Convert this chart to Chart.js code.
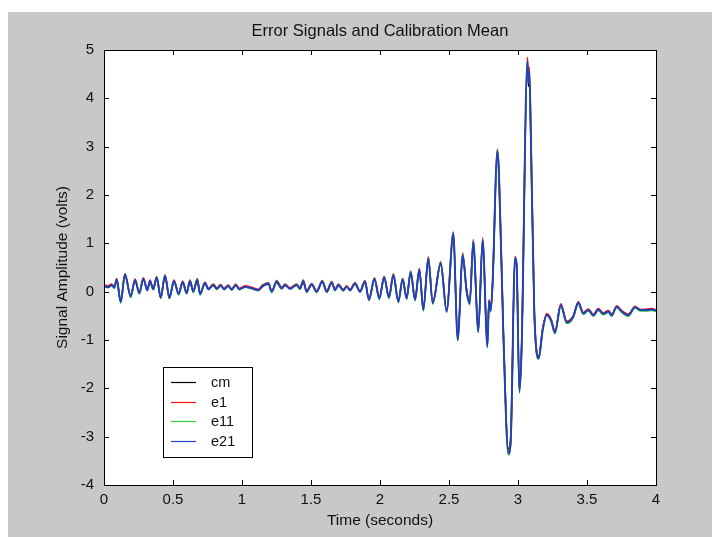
<!DOCTYPE html>
<html><head><meta charset="utf-8">
<script src="https://cdn.jsdelivr.net/npm/chart.js@4.4.1/dist/chart.umd.min.js"></script>
<style>
html,body{margin:0;padding:0;background:#fff;overflow:hidden}
#wrap{position:absolute;left:0;top:0;width:712px;height:537px}
</style></head><body><div id="wrap"><canvas id="c" width="712" height="537"></canvas></div>
<script>
// ---- data ----
const time = [
0.000,0.030,0.055,0.075,0.092,0.121,0.152,0.193,0.225,0.256,
0.285,0.314,0.333,0.357,0.382,0.411,0.442,0.474,0.507,0.541,
0.570,0.599,0.623,0.647,0.676,0.696,0.732,0.756,0.792,0.817,
0.845,0.870,0.900,0.925,0.955,0.980,1.022,1.070,1.118,1.150,
1.191,1.215,1.251,1.288,1.312,1.348,1.396,1.420,1.444,1.468,
1.505,1.541,1.582,1.614,1.650,1.674,1.698,1.734,1.758,1.783,
1.819,1.855,1.891,1.920,1.960,1.995,2.030,2.065,2.097,2.133,
2.164,2.193,2.222,2.254,2.285,2.314,2.350,2.382,2.440,2.483,
2.531,2.563,2.599,2.628,2.650,2.676,2.712,2.744,2.778,2.790,
2.802,2.816,2.850,2.862,2.894,2.930,2.947,2.978,2.990,3.010,
3.026,3.068,3.076,3.082,3.092,3.118,3.150,3.179,3.208,3.240,3.268,
3.310,3.353,3.400,3.437,3.473,3.510,3.546,3.582,3.618,3.655,
3.679,3.715,3.751,3.799,3.848,3.884,3.932,3.968,4.000];

const cm = [
0.11,0.10,0.13,0.09,0.24,-0.20,0.34,-0.09,0.23,-0.02,
0.26,0.04,0.21,0.06,0.28,-0.13,0.31,-0.14,0.21,-0.04,
0.19,-0.02,0.21,0.01,0.23,-0.04,0.17,0.06,0.13,0.05,
0.12,0.06,0.11,0.05,0.13,0.06,0.09,0.08,0.04,0.11,
0.16,0.01,0.19,0.06,0.13,0.07,0.13,0.07,0.20,0.01,
0.14,0.01,0.20,-0.01,0.18,0.04,0.13,0.02,0.11,0.04,
0.16,0.01,0.19,-0.16,0.25,-0.13,0.28,-0.11,0.33,-0.20,
0.25,-0.13,0.39,-0.16,0.44,-0.36,0.66,-0.23,0.56,-0.40,
1.16,-0.96,0.72,0.02,-0.22,1.00,-0.80,1.03,-1.10,-0.18,
-0.38,0.16,2.80,2.38,-0.86,-3.25,-3.02,0.66,0.52,-2.00,
-1.16,4.60,4.25,4.40,3.30,-0.42,-1.34,-0.77,-0.47,-0.58,-0.83,
-0.27,-0.62,-0.51,-0.24,-0.44,-0.38,-0.48,-0.37,-0.45,-0.40,
-0.47,-0.32,-0.40,-0.47,-0.33,-0.37,-0.39,-0.36,-0.38];

const e1 = [
0.14,0.12,0.16,0.10,0.27,-0.20,0.37,-0.08,0.26,-0.01,
0.29,0.05,0.24,0.07,0.31,-0.10,0.35,-0.10,0.24,-0.03,
0.22,-0.01,0.24,0.02,0.27,-0.03,0.20,0.07,0.16,0.08,
0.15,0.07,0.14,0.06,0.16,0.07,0.12,0.09,0.05,0.14,
0.19,0.02,0.23,0.09,0.16,0.08,0.16,0.08,0.24,0.02,
0.17,0.02,0.23,0.02,0.21,0.05,0.16,0.05,0.12,0.05,
0.19,0.02,0.23,-0.15,0.29,-0.12,0.32,-0.10,0.37,-0.19,
0.28,-0.12,0.43,-0.15,0.48,-0.36,0.72,-0.22,0.62,-0.39,
1.24,-0.98,0.80,0.03,-0.22,1.08,-0.80,1.12,-1.12,-0.17,
-0.37,0.21,2.95,2.55,-0.80,-3.30,-3.15,0.73,0.60,-2.02,
-1.15,4.85,4.45,4.65,3.55,-0.35,-1.33,-0.75,-0.45,-0.57,-0.82,
-0.25,-0.61,-0.50,-0.21,-0.43,-0.36,-0.47,-0.35,-0.44,-0.39,
-0.47,-0.29,-0.39,-0.47,-0.30,-0.37,-0.36,-0.35,-0.38];

const e11 = [
0.11,0.08,0.13,0.07,0.25,-0.24,0.37,-0.12,0.23,-0.05,
0.26,0.02,0.21,0.04,0.31,-0.14,0.34,-0.13,0.21,-0.07,
0.19,-0.05,0.23,-0.02,0.26,-0.07,0.17,0.04,0.15,0.05,
0.14,0.04,0.13,0.03,0.15,0.04,0.10,0.06,0.02,0.13,
0.18,-0.02,0.22,0.06,0.15,0.05,0.15,0.05,0.23,-0.02,
0.16,-0.02,0.22,-0.01,0.20,0.02,0.15,0.02,0.11,0.02,
0.18,-0.01,0.22,-0.19,0.28,-0.16,0.31,-0.14,0.36,-0.23,
0.27,-0.16,0.42,-0.19,0.47,-0.40,0.70,-0.26,0.60,-0.43,
1.22,-1.02,0.77,-0.02,-0.27,1.05,-0.85,1.09,-1.16,-0.22,
-0.42,0.17,2.93,2.48,-0.92,-3.38,-3.12,0.70,0.56,-2.10,
-1.22,4.75,4.33,4.52,3.42,-0.45,-1.40,-0.81,-0.50,-0.62,-0.87,
-0.30,-0.66,-0.54,-0.25,-0.47,-0.40,-0.51,-0.39,-0.48,-0.43,
-0.51,-0.33,-0.43,-0.51,-0.34,-0.40,-0.40,-0.39,-0.41];

const e21 = [
0.12,0.09,0.14,0.08,0.26,-0.22,0.36,-0.10,0.24,-0.03,
0.27,0.03,0.22,0.05,0.30,-0.12,0.33,-0.12,0.22,-0.05,
0.20,-0.03,0.22,0.00,0.25,-0.05,0.18,0.05,0.14,0.06,
0.13,0.05,0.12,0.04,0.14,0.05,0.10,0.07,0.03,0.12,
0.17,0.00,0.21,0.07,0.14,0.06,0.14,0.06,0.22,0.00,
0.15,0.00,0.21,0.00,0.19,0.03,0.14,0.03,0.10,0.03,
0.17,0.00,0.21,-0.17,0.27,-0.14,0.30,-0.12,0.35,-0.21,
0.26,-0.14,0.41,-0.17,0.46,-0.38,0.69,-0.24,0.59,-0.41,
1.21,-1.00,0.76,0.00,-0.25,1.04,-0.83,1.07,-1.14,-0.20,
-0.40,0.18,2.90,2.45,-0.90,-3.35,-3.10,0.69,0.55,-2.07,
-1.20,4.77,4.35,4.55,3.40,-0.40,-1.38,-0.79,-0.48,-0.60,-0.85,
-0.28,-0.64,-0.52,-0.23,-0.45,-0.38,-0.49,-0.37,-0.46,-0.41,
-0.49,-0.31,-0.41,-0.49,-0.32,-0.38,-0.38,-0.37,-0.39];

const seriesNames = ['cm','e1','e11','e21'];
const xTickValues = [0,0.5,1,1.5,2,2.5,3,3.5,4];
const yTickValues = [-4,-3,-2,-1,0,1,2,3,4,5];
const titleText = 'Error Signals and Calibration Mean';
const xTitle = 'Time (seconds)';
const yTitle = 'Signal Amplitude (volts)';

// ---- styles ----
const seriesColors = ['#000000','#ff1010','#33cc33','#2040c0'];
const FONT = '"Liberation Sans", Arial, sans-serif';

const seriesData = [cm, e1, e11, e21];
const datasets = seriesNames.map((name, k) => ({
  label: name,
  data: time.map((t, i) => ({x: t, y: seriesData[k][i]})),
  borderColor: seriesColors[k],
  borderWidth: k === 3 ? 1.9 : 1.5,
  pointRadius: 0,
  fill: false,
  cubicInterpolationMode: 'monotone',
  order: 4 - k
}));

const framePlugin = {
  id: 'frame',
  beforeDraw(chart) {
    const ctx = chart.ctx, a = chart.chartArea;
    ctx.save();
    ctx.fillStyle = '#ffffff';
    ctx.fillRect(0, 0, chart.width, chart.height);
    ctx.fillStyle = '#c8c8c8';
    ctx.fillRect(8, 12, chart.width - 8, chart.height - 12);
    ctx.fillStyle = '#ffffff';
    ctx.fillRect(a.left, a.top, a.right - a.left, a.bottom - a.top);
    ctx.restore();
  },
  afterDraw(chart) {
    const ctx = chart.ctx, a = chart.chartArea;
    const xs = chart.scales.x, ys = chart.scales.y;
    ctx.save();
    ctx.strokeStyle = '#000';
    ctx.lineWidth = 1;
    ctx.strokeRect(Math.round(a.left) + 0.5, Math.round(a.top) + 0.5,
                   Math.round(a.right - a.left), Math.round(a.bottom - a.top));
    const TL = 5;
    ctx.beginPath();
    xTickValues.forEach(v => {
      const px = Math.round(xs.getPixelForValue(v)) + 0.5;
      ctx.moveTo(px, a.bottom); ctx.lineTo(px, a.bottom - TL);
      ctx.moveTo(px, a.top); ctx.lineTo(px, a.top + TL);
    });
    yTickValues.forEach(v => {
      const py = Math.round(ys.getPixelForValue(v)) + 0.5;
      ctx.moveTo(a.left, py); ctx.lineTo(a.left + TL, py);
      ctx.moveTo(a.right, py); ctx.lineTo(a.right - TL, py);
    });
    ctx.stroke();

    ctx.fillStyle = '#111';
    ctx.textAlign = 'center';
    ctx.textBaseline = 'middle';
    ctx.font = '16.5px ' + FONT;
    ctx.fillText(titleText, (a.left + a.right) / 2, 31);
    ctx.font = '15.5px ' + FONT;
    ctx.fillText(xTitle, (a.left + a.right) / 2, 521);
    ctx.save();
    ctx.translate(63, (a.top + a.bottom) / 2);
    ctx.rotate(-Math.PI / 2);
    ctx.fillText(yTitle, 0, 0);
    ctx.restore();

    // legend
    const lx = 163, ly = 367, lw = 89, lh = 90;
    ctx.fillStyle = '#fff';
    ctx.fillRect(lx, ly, lw, lh);
    ctx.strokeStyle = '#000';
    ctx.strokeRect(lx + 0.5, ly + 0.5, lw, lh);
    ctx.font = '14.5px ' + FONT;
    ctx.textAlign = 'left';
    chart.data.datasets.forEach((ds, i) => {
      const y = ly + 15 + i * 19.7;
      ctx.strokeStyle = ds.borderColor;
      ctx.lineWidth = 1.2;
      ctx.beginPath();
      ctx.moveTo(lx + 8, Math.round(y) + 0.5);
      ctx.lineTo(lx + 33, Math.round(y) + 0.5);
      ctx.stroke();
      ctx.fillStyle = '#111';
      ctx.fillText(ds.label, lx + 48, y + 1);
    });
    ctx.restore();
  }
};

new Chart(document.getElementById('c'), {
  type: 'line',
  data: { datasets },
  options: {
    responsive: false,
    animation: false,
    devicePixelRatio: 1,
    layout: { padding: { left: 0, right: 56, top: 50, bottom: 0 } },
    plugins: { legend: { display: false }, title: { display: false }, tooltip: { enabled: false } },
    scales: {
      x: {
        type: 'linear', min: 0, max: 4,
        afterFit(s) { s.height = 52; },
        afterBuildTicks(s) { s.ticks = xTickValues.map(v => ({ value: v })); },
        grid: { display: false, drawTicks: false },
        border: { display: false },
        ticks: { padding: 6, autoSkip: false, maxRotation: 0, color: '#111',
                 font: { family: FONT, size: 15 }, callback: v => String(v) }
      },
      y: {
        type: 'linear', min: -4, max: 5,
        afterFit(s) { s.width = 104; },
        afterBuildTicks(s) { s.ticks = yTickValues.map(v => ({ value: v })); },
        grid: { display: false, drawTicks: false },
        border: { display: false },
        ticks: { padding: 10, autoSkip: false, color: '#111',
                 font: { family: FONT, size: 15 }, callback: v => String(v) }
      }
    }
  },
  plugins: [framePlugin]
});
</script>
</body></html>
